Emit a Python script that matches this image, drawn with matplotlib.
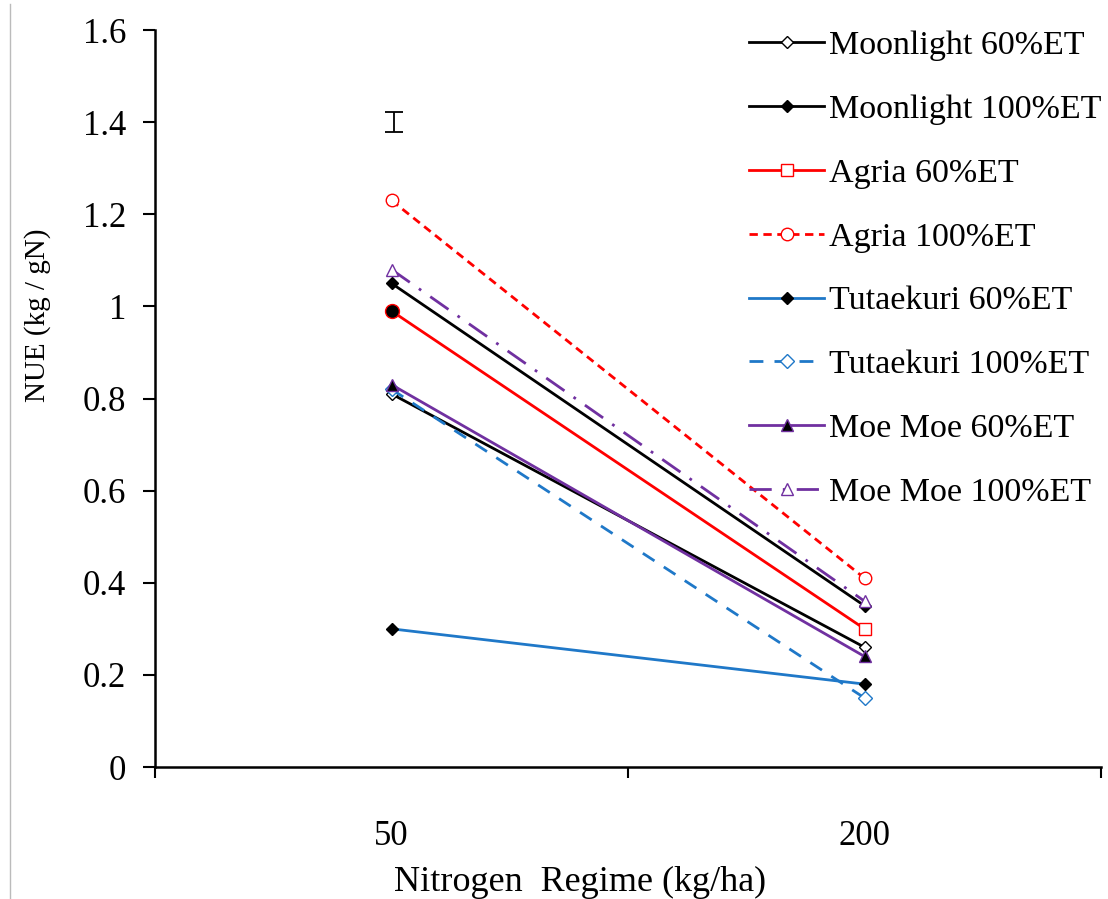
import matplotlib
matplotlib.use("Agg")
import matplotlib.pyplot as plt
from matplotlib.lines import Line2D

plt.rcParams['font.family'] = ['Liberation Serif', 'DejaVu Serif']

# nitrogen regimes (kg/ha) and NUE per cultivar / irrigation level
regimes = ["50", "200"]
moonlight_60 = [0.81, 0.26]
moonlight_100 = [1.05, 0.35]
agria_60 = [0.99, 0.30]
agria_100 = [1.23, 0.41]
tutaekuri_60 = [0.30, 0.18]
tutaekuri_100 = [0.82, 0.15]
moemoe_60 = [0.83, 0.24]
moemoe_100 = [1.08, 0.36]

# LSD bar
lsd_center = 1.40
lsd_half = 0.022

blue = "#1f78c8"
purple = "#7030a0"

fig = plt.figure(figsize=(11.08, 8.99), dpi=100)
ax = fig.add_axes([0.14, 0.1468, 0.8537, 0.8198])
x = [0, 1]

ax.plot(x, moonlight_60, color="black", lw=2, marker="D", ms=6, mfc="white", mec="black",
        label="Moonlight 60%ET")
ax.plot(x, moonlight_100, color="black", lw=2, marker="D", ms=6, mfc="black", mec="black",
        label="Moonlight 100%ET")
ax.plot(x, agria_60, color="red", lw=2, marker="s", ms=9, mfc="white", mec="red",
        markevery=[1], label="Agria 60%ET", zorder=3)
# first Agria 60% point shown as a filled dot
ax.plot(x[0], agria_60[0], ls="none", marker="o", ms=10, mfc="black", mec="red", zorder=4)
ax.plot(x, agria_100, color="red", lw=2, ls=(0, (3, 2)), marker="o", ms=9, mfc="white",
        mec="red", label="Agria 100%ET")
ax.plot(x, tutaekuri_60, color=blue, lw=2, marker="D", ms=6, mfc="black", mec="black",
        label="Tutaekuri 60%ET")
ax.plot(x, tutaekuri_100, color=blue, lw=2, ls=(0, (5, 4)), marker="D", ms=7, mfc="white",
        mec=blue, label="Tutaekuri 100%ET")
ax.plot(x, moemoe_60, color=purple, lw=2, marker="^", ms=9, mfc="black", mec=purple,
        label="Moe Moe 60%ET")
ax.plot(x, moemoe_100, color=purple, lw=2, ls=(0, (8, 4, 1, 4)), marker="^", ms=9,
        mfc="white", mec=purple, label="Moe Moe 100%ET")

ax.errorbar([0.005], [lsd_center], yerr=[lsd_half], fmt="none", ecolor="black",
            elinewidth=1.3, capsize=6.5, capthick=1.3)

ax.set_xlim(-0.5, 1.5)
ax.set_ylim(0, 1.6)
ax.set_yticks([0, 0.2, 0.4, 0.6, 0.8, 1.0, 1.2, 1.4, 1.6])
ax.set_yticklabels(["0", "0.2", "0.4", "0.6", "0.8", "1", "1.2", "1.4", "1.6"])
ax.set_xticks([-0.5, 0.5, 1.5])
ax.set_xticklabels([])
ax.set_xticks(x, minor=True)
ax.set_xticklabels(regimes, minor=True)
ax.tick_params(axis="x", which="major", direction="out", length=8, width=1.5)
ax.tick_params(axis="x", which="minor", length=0, pad=38, labelsize=25)
ax.tick_params(axis="y", direction="out", length=9, width=1.5, labelsize=25, pad=12)

for s in ["top", "right"]:
    ax.spines[s].set_visible(False)
for s in ["left", "bottom"]:
    ax.spines[s].set_linewidth(1.8)

ax.set_ylabel("NUE (kg / gN)", fontsize=21)
ax.yaxis.set_label_coords(-0.11, 0.613)
ax.set_xlabel("Nitrogen  Regime (kg/ha)", fontsize=26)
ax.xaxis.set_label_coords(0.449, -0.134)

ax.legend(loc="upper right", bbox_to_anchor=(1.015, 1.018), frameon=False, fontsize=24.5,
          handlelength=2.2, labelspacing=0.97, handletextpad=0.15, borderaxespad=0)

# thin frame line on the left edge of the page
fig.add_artist(Line2D([0.009, 0.009], [0.0, 0.995], color="#bbbbbb", lw=1,
                      transform=fig.transFigure))

fig.savefig("out.png", dpi=100)
